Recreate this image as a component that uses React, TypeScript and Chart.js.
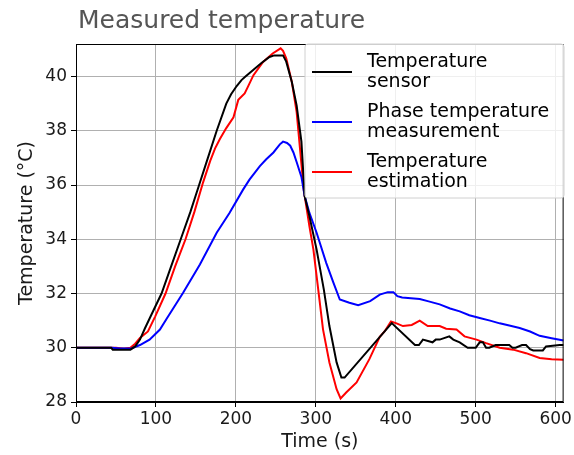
import React, { useEffect, useRef } from 'react';
import { Chart, registerables } from 'chart.js';

Chart.register(...registerables);

// Time (s) and temperature (°C)
const sensorTime = [0, 44, 46, 68, 74, 80, 86, 94, 107, 119, 131, 143, 154, 165, 176, 188, 194, 201, 207, 212, 222, 232, 242, 248, 259, 263, 270, 276, 282, 286, 292, 301, 310, 317, 326, 332, 336, 395, 424, 429, 434, 446, 450, 455, 467, 472, 480, 490, 500, 505, 509, 513, 517, 525, 530, 542, 546, 550, 558, 563, 568, 572, 584, 588, 605, 610];
const sensorTemp = [30.0, 30.0, 29.93, 29.93, 30.05, 30.3, 30.7, 31.2, 32.0, 33.0, 34.0, 35.0, 36.0, 37.0, 38.0, 39.0, 39.35, 39.65, 39.87, 40.0, 40.25, 40.5, 40.72, 40.78, 40.78, 40.55, 39.8, 38.94, 37.6, 35.6, 34.85, 33.62, 32.15, 30.8, 29.46, 28.9, 28.9, 30.91, 30.1, 30.1, 30.3, 30.2, 30.3, 30.3, 30.42, 30.3, 30.2, 30.0, 30.0, 30.2, 30.2, 30.0, 30.0, 30.1, 30.1, 30.1, 30.0, 30.0, 30.1, 30.1, 29.95, 29.9, 29.9, 30.05, 30.1, 30.1];

const phaseTime = [0, 45, 55, 70, 80, 92, 105, 113, 134, 155, 176, 192, 209, 217, 230, 238, 247, 255, 259, 264, 268, 272, 276, 282, 286, 292, 301, 313, 322, 330, 342, 353, 368, 380, 390, 397, 402, 408, 430, 440, 455, 468, 480, 492, 505, 518, 530, 542, 555, 568, 580, 595, 610];
const phaseTemp = [30.0, 30.0, 29.97, 29.98, 30.1, 30.3, 30.67, 31.05, 32.03, 33.07, 34.24, 34.97, 35.83, 36.2, 36.7, 36.95, 37.2, 37.5, 37.6, 37.55, 37.45, 37.2, 36.85, 36.3, 35.6, 34.97, 34.24, 33.13, 32.4, 31.78, 31.66, 31.57, 31.72, 31.96, 32.05, 32.05, 31.9, 31.85, 31.8, 31.72, 31.6, 31.45, 31.34, 31.2, 31.1, 31.0, 30.9, 30.82, 30.73, 30.6, 30.44, 30.35, 30.27];

const estimTime = [0, 50, 60, 68, 74, 80, 90, 99, 112, 124, 137, 148, 159, 168, 174, 180, 188, 197, 203, 211, 215, 222, 234, 246, 256, 259, 263, 270, 276, 285, 292, 297, 303, 309, 317, 326, 331, 338, 351, 367, 380, 386, 394, 401, 409, 420, 430, 440, 455, 463, 476, 486, 501, 513, 530, 547, 563, 580, 595, 610];
const estimTemp = [30.0, 30.0, 29.96, 30.0, 30.15, 30.36, 30.6, 31.15, 32.0, 33.0, 34.0, 35.0, 36.1, 36.9, 37.35, 37.7, 38.1, 38.5, 39.14, 39.38, 39.62, 40.05, 40.54, 40.85, 41.04, 40.95, 40.67, 39.8, 38.7, 35.8, 34.48, 33.62, 32.15, 30.68, 29.46, 28.47, 28.13, 28.35, 28.72, 29.58, 30.4, 30.6, 30.97, 30.9, 30.8, 30.84, 31.0, 30.8, 30.8, 30.7, 30.67, 30.42, 30.3, 30.17, 30.0, 29.93, 29.8, 29.62, 29.58, 29.56];

const xTicks = [0, 100, 200, 300, 400, 500, 600];
const yTicks = [28, 30, 32, 34, 36, 38, 40];

const seriesNames = [['Temperature', 'sensor'], ['Phase temperature', 'measurement'], ['Temperature', 'estimation']];
const seriesColors = ['#000000', '#0000ff', '#ff0000'];
const chartTitle = 'Measured temperature';
const xTitle = 'Time (s)';
const yTitle = 'Temperature (°C)';

const FONT = 'DejaVu Sans';

const toXY = (t: number[], v: number[]) => t.map((x, i) => ({ x, y: v[i] }));

const decorPlugin = {
  id: 'decor',
  afterDraw(chart: any) {
    const { ctx, chartArea } = chart;
    ctx.save();
    // frame
    ctx.strokeStyle = '#000';
    ctx.lineWidth = 1;
    ctx.strokeRect(chartArea.left + 0.5, chartArea.top + 0.5, chartArea.right - chartArea.left - 1, chartArea.bottom - chartArea.top - 1);
    // title
    ctx.fillStyle = '#555555';
    ctx.font = `25px "${FONT}"`;
    ctx.textAlign = 'left';
    ctx.textBaseline = 'alphabetic';
    ctx.fillText(chartTitle, 78, 28);
    // legend
    const bx = 305, by = 44, bw = 259, bh = 154, r = 3;
    ctx.beginPath();
    ctx.moveTo(bx + r, by);
    ctx.lineTo(bx + bw - r, by);
    ctx.quadraticCurveTo(bx + bw, by, bx + bw, by + r);
    ctx.lineTo(bx + bw, by + bh - r);
    ctx.quadraticCurveTo(bx + bw, by + bh, bx + bw - r, by + bh);
    ctx.lineTo(bx + r, by + bh);
    ctx.quadraticCurveTo(bx, by + bh, bx, by + bh - r);
    ctx.lineTo(bx, by + r);
    ctx.quadraticCurveTo(bx, by, bx + r, by);
    ctx.closePath();
    ctx.fillStyle = 'rgba(255,255,255,0.8)';
    ctx.fill();
    ctx.strokeStyle = '#d0d0d0';
    ctx.stroke();
    ctx.font = `19px "${FONT}"`;
    ctx.fillStyle = '#000';
    seriesNames.forEach((lines, i) => {
      const ly = 72 + 50 * i;
      ctx.strokeStyle = seriesColors[i];
      ctx.lineWidth = 2;
      ctx.beginPath();
      ctx.moveTo(312, ly);
      ctx.lineTo(352, ly);
      ctx.stroke();
      lines.forEach((s, j) => {
        ctx.fillText(s, 367, 67 + 50 * i + 20 * j);
      });
    });
    ctx.restore();
  },
};

export default function App() {
  const ref = useRef<HTMLCanvasElement>(null);
  useEffect(() => {
    const tickFont = { family: FONT, size: 17 };
    const titleFont = { family: FONT, size: 19 };
    const chart = new Chart(ref.current as HTMLCanvasElement, {
      type: 'line',
      data: {
        datasets: [
          { label: seriesNames[0].join(' '), data: toXY(sensorTime, sensorTemp), borderColor: seriesColors[0], borderWidth: 2, pointRadius: 0, tension: 0 },
          { label: seriesNames[1].join(' '), data: toXY(phaseTime, phaseTemp), borderColor: seriesColors[1], borderWidth: 2, pointRadius: 0, tension: 0 },
          { label: seriesNames[2].join(' '), data: toXY(estimTime, estimTemp), borderColor: seriesColors[2], borderWidth: 2, pointRadius: 0, tension: 0 },
        ],
      },
      options: {
        animation: false,
        responsive: false,
        maintainAspectRatio: false,
        layout: { padding: { top: 44, right: 9, left: 0, bottom: 0 } },
        plugins: { legend: { display: false }, title: { display: false }, tooltip: { enabled: false } },
        scales: {
          x: {
            type: 'linear',
            min: 0,
            max: 610,
            afterBuildTicks: (s: any) => { s.ticks = xTicks.map((v) => ({ value: v })); },
            afterFit: (s: any) => { s.height = 53; },
            ticks: { font: tickFont, color: '#1a1a1a', padding: 2, maxRotation: 0, autoSkip: false },
            grid: { color: '#b0b0b0', lineWidth: 1, tickColor: '#000', tickLength: 5 },
            border: { color: '#000', width: 1 },
            title: { display: true, text: xTitle, font: titleFont, color: '#1a1a1a', padding: { top: 0, bottom: 2 } },
          },
          y: {
            type: 'linear',
            min: 28,
            max: 41.2,
            afterBuildTicks: (s: any) => { s.ticks = yTicks.map((v) => ({ value: v })); },
            afterFit: (s: any) => { s.width = 76; },
            ticks: { font: tickFont, color: '#1a1a1a', padding: 4 },
            grid: { color: '#b0b0b0', lineWidth: 1, tickColor: '#000', tickLength: 5 },
            border: { color: '#000', width: 1 },
            title: { display: true, text: yTitle, font: titleFont, color: '#1a1a1a', padding: { top: 16, bottom: 0 } },
          },
        },
      } as any,
      plugins: [decorPlugin],
    });
    return () => chart.destroy();
  }, []);
  return (
    <div style={{ position: 'absolute', left: 0, top: 0, width: 574, height: 455 }}>
      <canvas ref={ref} width={574} height={455} style={{ display: 'block' }} />
    </div>
  );
}
